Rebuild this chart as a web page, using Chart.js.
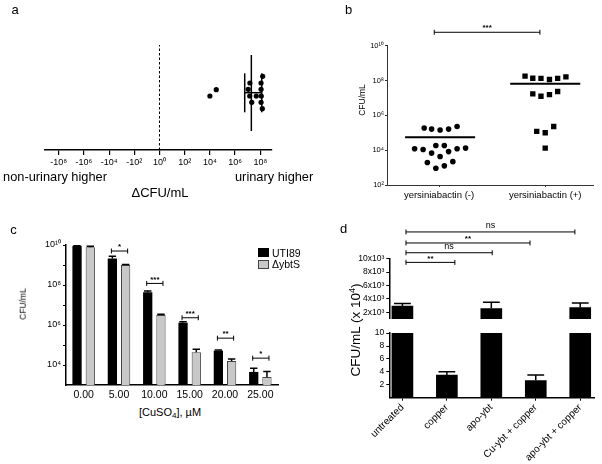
<!DOCTYPE html>
<html>
<head>
<meta charset="utf-8">
<script src="https://cdn.jsdelivr.net/npm/chart.js@4.4.1/dist/chart.umd.min.js"></script>
<style>
  html, body { margin: 0; padding: 0; background: #fff; }
  #fig { position: relative; width: 602px; height: 464px; overflow: hidden;
         font-family: 'Liberation Sans', Arial, Helvetica, sans-serif; color: #000; }
  canvas { position: absolute; }
  .t { position: absolute; white-space: nowrap; line-height: 1; transform: translate(-50%, -50%); }
  .l { position: absolute; white-space: nowrap; line-height: 1; transform: translateY(-50%); }
  .r { position: absolute; white-space: nowrap; line-height: 1; transform: translate(-50%, -50%) rotate(-90deg); }
  .sw { position: absolute; box-sizing: border-box; }
</style>
</head>
<body>
<div id="fig">
  <canvas id="chA" width="300" height="170" style="left:0;top:0;width:300px;height:170px"></canvas>
  <canvas id="chB" width="302" height="205" style="left:300px;top:0;width:302px;height:205px"></canvas>
  <canvas id="chC" width="300" height="177" style="left:0;top:228px;width:300px;height:177px"></canvas>
  <canvas id="chDt" width="302" height="106" style="left:300px;top:220px;width:302px;height:106px"></canvas>
  <canvas id="chDb" width="302" height="138" style="left:300px;top:326px;width:302px;height:138px"></canvas>

  <div class="t" style="left:15px;top:9px;font-size:13px">a</div>
  <div class="t" style="left:348.5px;top:8.5px;font-size:13px">b</div>
  <div class="t" style="left:13.5px;top:228.5px;font-size:13px">c</div>
  <div class="t" style="left:343.5px;top:227.5px;font-size:13px">d</div>

  <div class="t" style="left:55px;top:177px;font-size:12.8px">non-urinary higher</div>
  <div class="l" style="left:235px;top:177px;font-size:12.8px">urinary higher</div>
  <div class="t" style="left:160px;top:192px;font-size:13px">ΔCFU/mL</div>

  <div class="r" style="left:361.5px;top:100px;font-size:8.5px">CFU/mL</div>

  <div class="r" style="left:22.5px;top:304px;font-size:8.5px">CFU/mL</div>
  <div class="t" style="left:170px;top:412.5px;font-size:11px">[CuSO<sub style="font-size:8px;vertical-align:-2px">4</sub>], µM</div>
  <div class="sw" style="left:258px;top:248px;width:11px;height:9px;background:#000"></div>
  <div class="l" style="left:272px;top:252.5px;font-size:10.5px">UTI89</div>
  <div class="sw" style="left:258px;top:259.5px;width:11px;height:9px;background:#c8c8c8;border:1px solid #444"></div>
  <div class="l" style="left:272px;top:264px;font-size:10.5px">ΔybtS</div>

  <div class="r" style="left:355px;top:330px;font-size:13.5px">CFU/mL (x 10<sup style="font-size:9px;vertical-align:5px">4</sup>)</div>
</div>

<script>
// ---- a: difference urinary - non-urinary, ΔCFU/mL (vertical jitter only)
const aTickExp = [-8, -6, -4, -2, 0, 2, 4, 6, 8];
const aDelta = [1.0e4, 3.2e4, 1.55e8, 1.5e7, 1.15e8, 1.1e7, 1.15e8, 1.45e7, 4.8e7, 1.2e8, 2.1e7, 1.15e8, 1.45e8];
const aJitter = [5.4, 6.03, 7.37, 6.7, 6.7, 6.07, 6.07, 5.4, 5.4, 5.4, 4.77, 4.77, 4.13];
const aMean = 1.95e7;
const aSdLo = 5.8e6;
const aSdHi = 1.3e8;

// ---- b: CFU/mL by yersiniabactin status
const bGroups = ['yersiniabactin (-)', 'yersiniabactin (+)'];
const bNegCFU = [1.86e5, 1.62e5, 1.45e5, 1.62e5, 2.29e5, 1.2e4, 1.1e4, 1.86e4, 1.86e4, 6.8e3, 8.3e3, 1.2e4, 1.32e4, 4.3e3, 1.95e3, 2.2e3, 9.1e2, 1.26e3];
const bNegJit = [-0.14, -0.07, 0.01, 0.09, 0.17, -0.23, -0.15, -0.03, 0.05, -0.07, 0.09, 0.17, 0.25, 0.01, -0.11, 0.13, -0.03, 0.05];
const bPosCFU = [1.78e8, 1.35e8, 1.32e8, 1.15e8, 1.32e8, 1.62e8, 1.7e7, 1.26e7, 1.55e7, 2.34e7, 1.2e5, 1.0e5, 2.29e5, 1.32e4];
const bPosJit = [-0.19, -0.117, -0.04, 0.04, 0.117, 0.195, -0.117, -0.04, 0.04, 0.117, -0.08, 0, 0.08, 0];
const bMeans = [5.6e4, 6.5e7];
const bTicks = [1e2, 1e4, 1e6, 1e8, 1e10];

// ---- c: CFU/mL vs copper
const cDoses = ['0.00', '5.00', '10.00', '15.00', '20.00', '25.00'];
const cUTI89 = [8.9e9, 2.1e9, 4.4e7, 1.3e6, 5.2e4, 4.5e3];
const cUTI89Err = [9.3e9, 2.7e9, 5.0e7, 1.45e6, 5.6e4, 6.8e3];
const cYbtS = [7.8e9, 1.0e9, 3.2e6, 4.4e4, 1.6e4, 2.5e3];
const cYbtSErr = [8.7e9, 1.05e9, 3.4e6, 6.2e4, 2.0e4, 4.7e3];
const cSig = ['', '*', '***', '***', '**', '*'];
const cSigY = [null, 5e9, 1.2e8, 2.3e6, 2.2e5, 2.2e4];
const cTicks = [1e4, 1e5, 1e6, 1e7, 1e8, 1e9, 1e10];

// ---- d: CFU/mL (x 10^4) by treatment, broken axis
const dTreatments = ['untreated', 'copper', 'apo-ybt', 'Cu-ybt + copper', 'apo-ybt + copper'];
const dMeans = [2900, 3.5, 2560, 2.65, 2700];
const dErrHi = [3300, 4.0, 3480, 3.51, 3390];
const dSigFrom = 0.08;
const dSigTo = [1.18, 2.02, 2.87, 3.88];
const dSigY = [9450, 10890, 12350, 14000];
const dSigText = ['**', 'ns', '**', 'ns'];
const dTopTicks = [2000, 4000, 6000, 8000, 10000];
const dLowTicks = [2, 4, 6, 8, 10];

const FONT = "'Liberation Sans', Arial, Helvetica, sans-serif";
Chart.defaults.font.family = FONT;
Chart.defaults.color = '#000';

const SUP = {'0':'⁰','1':'¹','2':'²','3':'³','4':'⁴','5':'⁵','6':'⁶','7':'⁷','8':'⁸','9':'⁹'};
const sup = n => String(n).split('').map(c => SUP[c]).join('');
const slog = v => Math.sign(v) * Math.log10(Math.abs(v));

const base = {
  responsive: false,
  animation: false,
  events: [],
  plugins: { legend: { display: false }, tooltip: { enabled: false } }
};

function errorBars(errSets) {
  return {
    id: 'errbars',
    afterDatasetsDraw(chart) {
      const { ctx, chartArea: a } = chart;
      const y = chart.scales.y;
      ctx.save();
      ctx.beginPath();
      ctx.rect(a.left, a.top - 1, a.right - a.left, a.bottom - a.top + 1);
      ctx.clip();
      ctx.strokeStyle = '#000';
      ctx.lineWidth = 1.5;
      errSets.forEach((errs, di) => {
        chart.getDatasetMeta(di).data.forEach((bar, i) => {
          const yt = y.getPixelForValue(errs[i]);
          const half = bar.width * 0.4;
          ctx.beginPath();
          ctx.moveTo(bar.x, bar.y);
          ctx.lineTo(bar.x, yt);
          ctx.moveTo(bar.x - half, yt);
          ctx.lineTo(bar.x + half, yt);
          ctx.stroke();
        });
      });
      ctx.restore();
    }
  };
}

function brackets(getItems) {
  return {
    id: 'brackets',
    afterDraw(chart) {
      const ctx = chart.ctx;
      ctx.save();
      ctx.strokeStyle = '#000';
      ctx.fillStyle = '#000';
      ctx.lineWidth = 1;
      ctx.textAlign = 'center';
      ctx.textBaseline = 'bottom';
      getItems(chart).forEach(it => {
        ctx.beginPath();
        ctx.moveTo(it.x1, it.y); ctx.lineTo(it.x2, it.y);
        ctx.moveTo(it.x1, it.y - 2.5); ctx.lineTo(it.x1, it.y + 2.5);
        ctx.moveTo(it.x2, it.y - 2.5); ctx.lineTo(it.x2, it.y + 2.5);
        ctx.stroke();
        const ns = it.text === 'ns';
        ctx.font = ns ? `9px ${FONT}` : `bold 8px ${FONT}`;
        ctx.fillText(it.text, (it.x1 + it.x2) / 2, it.y - (ns ? 1.5 : 0));
      });
      ctx.restore();
    }
  };
}

const line = (pts, w) => ({ data: pts, showLine: true, pointRadius: 0, borderColor: '#000', borderWidth: w, fill: false });

// ---------- panel a
new Chart(document.getElementById('chA'), {
  type: 'scatter',
  data: {
    datasets: [
      { data: aDelta.map((v, i) => ({ x: slog(v), y: aJitter[i] })), pointRadius: 2.6,
        backgroundColor: '#000', borderWidth: 0, order: 0 },
      Object.assign(line([{ x: 0, y: 0 }, { x: 0, y: 10.5 }], 1), { borderDash: [2.5, 2], order: 5 }),
      Object.assign(line([{ x: slog(aMean), y: 1.9 }, { x: slog(aMean), y: 9.5 }], 1.5), { order: 4 }),
      Object.assign(line([{ x: slog(aSdLo), y: 5.73 }, { x: slog(aSdHi), y: 5.73 }], 1.5), { order: 3 }),
      Object.assign(line([{ x: slog(aSdLo), y: 3.77 }, { x: slog(aSdLo), y: 7.67 }], 1.5), { order: 2 }),
      Object.assign(line([{ x: slog(aSdHi), y: 3.77 }, { x: slog(aSdHi), y: 7.67 }], 1.5), { order: 1 })
    ]
  },
  options: Object.assign({}, base, {
    layout: { padding: { left: 45, right: 28, top: 45, bottom: 0 } },
    scales: {
      x: {
        type: 'linear', min: -9.09, max: 8.93,
        afterBuildTicks: s => { s.ticks = aTickExp.map(v => ({ value: v })); },
        afterFit: s => { s.height = 20; },
        ticks: { autoSkip: false, maxRotation: 0, padding: 2, font: { size: 9 },
                 callback: v => (v < 0 ? '-' : '') + '10' + sup(Math.abs(v)) },
        grid: { drawOnChartArea: false, tickLength: 5, color: '#000', lineWidth: 1.2 },
        border: { color: '#000', width: 1.5 }
      },
      y: { display: false, min: 0, max: 10.5 }
    }
  })
});

// ---------- panel b
new Chart(document.getElementById('chB'), {
  type: 'scatter',
  data: {
    datasets: [
      { data: bNegCFU.map((v, i) => ({ x: 0 + bNegJit[i], y: v })), pointStyle: 'circle',
        pointRadius: 2.8, backgroundColor: '#000', borderWidth: 0 },
      { data: bPosCFU.map((v, i) => ({ x: 1 + bPosJit[i], y: v })), pointStyle: 'rect',
        pointRadius: 3.8, backgroundColor: '#000', borderWidth: 0 },
      line([{ x: -0.32, y: bMeans[0] }, { x: 0.34, y: bMeans[0] }], 2),
      line([{ x: 0.67, y: bMeans[1] }, { x: 1.33, y: bMeans[1] }], 2)
    ]
  },
  options: Object.assign({}, base, {
    layout: { padding: { left: 0, right: 9, top: 45.7, bottom: 0 } },
    scales: {
      x: {
        type: 'linear', min: -0.49, max: 1.45,
        afterBuildTicks: s => { s.ticks = bGroups.map((g, i) => ({ value: i })); },
        afterFit: s => { s.height = 20; },
        ticks: { autoSkip: false, maxRotation: 0, padding: 3, font: { size: 9.5 }, callback: v => bGroups[v] },
        grid: { drawOnChartArea: false, tickLength: 2, color: '#333' },
        border: { color: '#333', width: 1 }
      },
      y: {
        type: 'logarithmic', min: 1e2, max: 1e10,
        afterBuildTicks: s => { s.ticks = bTicks.map(v => ({ value: v })); },
        afterFit: s => { s.width = 87; },
        ticks: { padding: 1, font: { size: 7.5 }, callback: v => '10' + sup(Math.round(Math.log10(v))) },
        grid: { drawOnChartArea: false, tickLength: 2, color: '#333' },
        border: { color: '#333', width: 1 }
      }
    }
  }),
  plugins: [brackets(ch => [{
    x1: ch.scales.x.getPixelForValue(-0.045),
    x2: ch.scales.x.getPixelForValue(0.95),
    y: ch.scales.y.getPixelForValue(5.9e10),
    text: '***'
  }])]
});

// ---------- panel c
new Chart(document.getElementById('chC'), {
  type: 'bar',
  data: {
    labels: cDoses,
    datasets: [
      { label: 'UTI89', data: cUTI89, backgroundColor: '#000', borderWidth: 0 },
      { label: 'ΔybtS', data: cYbtS, backgroundColor: '#c8c8c8', borderColor: '#444', borderWidth: 1 }
    ]
  },
  options: Object.assign({}, base, {
    datasets: { bar: { categoryPercentage: 0.75, barPercentage: 0.7 } },
    layout: { padding: { left: 0, right: 22, top: 17, bottom: 0 } },
    scales: {
      x: {
        afterFit: s => { s.height = 20; },
        ticks: { font: { size: 10.5 }, padding: 4, maxRotation: 0, autoSkip: false },
        grid: { display: false, drawTicks: false },
        border: { color: '#000', width: 1.5 }
      },
      y: {
        type: 'logarithmic', min: 1e3, max: 1e10,
        afterBuildTicks: s => { s.ticks = cTicks.map(v => ({ value: v })); },
        afterFit: s => { s.width = 66; },
        ticks: { font: { size: 9 }, padding: 2,
                 callback: v => { const e = Math.round(Math.log10(v)); return e % 2 === 0 ? '10' + sup(e) : ''; } },
        grid: { drawOnChartArea: false, tickLength: 3, color: '#000' },
        border: { color: '#000', width: 1.5 }
      }
    }
  }),
  plugins: [
    errorBars([cUTI89Err, cYbtSErr]),
    brackets(ch => {
      const m0 = ch.getDatasetMeta(0).data, m1 = ch.getDatasetMeta(1).data;
      return cSig.map((s, i) => s ? {
        x1: m0[i].x - 1, x2: m1[i].x + 2, y: ch.scales.y.getPixelForValue(cSigY[i]), text: s
      } : null).filter(Boolean);
    })
  ]
});

// ---------- panel d (upper segment)
const dX = { type: 'linear', offset: false, min: -0.295, max: 4.31 };
new Chart(document.getElementById('chDt'), {
  type: 'bar',
  data: { datasets: [{ data: dMeans.map((v, i) => ({ x: i, y: v })), backgroundColor: '#000', barThickness: 21, clip: 0 }] },
  options: Object.assign({}, base, {
    layout: { padding: { left: 0, right: 8, top: 38.7, bottom: 2 } },
    scales: {
      x: Object.assign({ display: false, grid: { offset: false } }, dX),
      y: {
        min: 1000, max: 10000,
        afterBuildTicks: s => { s.ticks = dTopTicks.map(v => ({ value: v })); },
        afterFit: s => { s.width = 89.3; },
        ticks: { font: { size: 8.5 }, padding: 2, callback: v => (v / 1000) + 'x10³' },
        grid: { drawOnChartArea: false, tickLength: 3, color: '#000' },
        border: { color: '#000', width: 1.5 }
      }
    }
  }),
  plugins: [
    errorBars([dErrHi]),
    brackets(ch => dSigTo.map((to, i) => ({
      x1: ch.scales.x.getPixelForValue(dSigFrom),
      x2: ch.scales.x.getPixelForValue(to),
      y: ch.scales.y.getPixelForValue(dSigY[i]),
      text: dSigText[i]
    })))
  ]
});

// ---------- panel d (lower segment)
new Chart(document.getElementById('chDb'), {
  type: 'bar',
  data: { datasets: [{ data: dMeans.map((v, i) => ({ x: i, y: v })), backgroundColor: '#000', barThickness: 21, clip: 0 }] },
  options: Object.assign({}, base, {
    layout: { padding: { left: 0, right: 8, top: 5, bottom: 0 } },
    scales: {
      x: Object.assign({
        afterBuildTicks: s => { s.ticks = dTreatments.map((t, i) => ({ value: i })); },
        afterFit: s => { s.height = 66.3; },
        ticks: { autoSkip: false, minRotation: 45, maxRotation: 45, font: { size: 10 }, padding: 1,
                 callback: v => dTreatments[v] },
        grid: { offset: false, drawOnChartArea: false, tickLength: 3, color: '#000' },
        border: { color: '#000', width: 1.5 }
      }, dX),
      y: {
        min: 0, max: 10,
        afterBuildTicks: s => { s.ticks = dLowTicks.map(v => ({ value: v })); },
        afterFit: s => { s.width = 89.3; },
        ticks: { font: { size: 8.5 }, padding: 2 },
        grid: { drawOnChartArea: false, tickLength: 3, color: '#000' },
        border: { color: '#000', width: 1.5 }
      }
    }
  }),
  plugins: [errorBars([dErrHi])]
});
</script>
</body>
</html>
